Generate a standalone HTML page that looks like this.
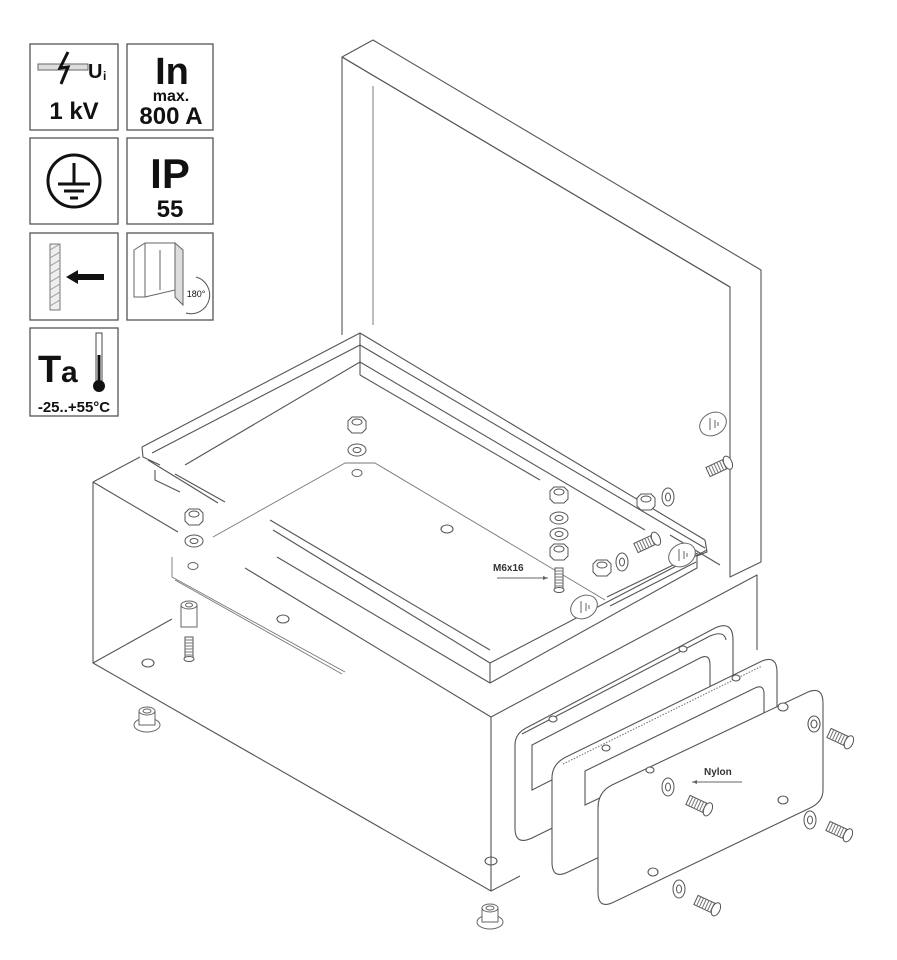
<!DOCTYPE html>
<html><head><meta charset="utf-8"><style>
html,body{margin:0;padding:0;background:#fff;}
svg{display:block;}
text{font-family:"Liberation Sans",sans-serif;}
</style></head><body>
<svg width="897" height="960" viewBox="0 0 897 960" xmlns="http://www.w3.org/2000/svg">
<defs>
<g id="hscrew" fill="#fff" stroke="#555" stroke-width="1">
  <path d="M0,-5 L20,-5 L20,5 L0,5 Z"/>
  <path d="M3,-5 v10 M6,-5 v10 M9,-5 v10 M12,-5 v10 M15,-5 v10 M18,-5 v10" stroke="#777"/>
  <ellipse cx="22" cy="0" rx="4" ry="7"/>
</g>
<g id="vscrew" fill="#fff" stroke="#555" stroke-width="1">
  <rect x="-4" y="0" width="8" height="22"/>
  <path d="M-4,3 h8 M-4,6 h8 M-4,9 h8 M-4,12 h8 M-4,15 h8 M-4,18 h8" stroke="#777"/>
  <ellipse cx="0" cy="22" rx="5" ry="2.5"/>
</g>
<g id="nut" fill="#fff" stroke="#555" stroke-width="1">
  <path d="M-9,-4 L-5,-8 L5,-8 L9,-4 L9,4 L5,8 L-5,8 L-9,4 Z"/>
  <ellipse cx="0" cy="-3" rx="5" ry="3"/>
</g>
<g id="washer" fill="#fff" stroke="#555" stroke-width="1">
  <ellipse cx="0" cy="0" rx="9" ry="6"/>
  <ellipse cx="0" cy="0" rx="4" ry="2.5"/>
</g>
<g id="vwasher" fill="#fff" stroke="#555" stroke-width="1">
  <ellipse cx="0" cy="0" rx="6" ry="9"/>
  <ellipse cx="0" cy="0" rx="2.5" ry="4"/>
</g>
<g id="foot" fill="#fff" stroke="#666" stroke-width="1">
  <ellipse cx="0" cy="8" rx="13" ry="7"/>
  <rect x="-8" y="-6" width="16" height="14"/>
  <ellipse cx="0" cy="-6" rx="8" ry="4"/>
  <ellipse cx="0" cy="-6" rx="4" ry="2"/>
</g>
<g id="earth" fill="#fff" stroke="#666" stroke-width="1">
  <ellipse cx="0" cy="0" rx="14" ry="11" transform="rotate(-30)"/>
  <path d="M-3,-6 v12 M2,-4 v8 M5,-2 v4" />
</g>
</defs>

<!-- ICON PANEL -->
<g fill="none" stroke="#555" stroke-width="1.3">
  <rect x="30" y="44" width="88" height="86"/>
  <rect x="127" y="44" width="86" height="86"/>
  <rect x="30" y="138" width="88" height="86"/>
  <rect x="127" y="138" width="86" height="86"/>
  <rect x="30" y="233" width="88" height="87"/>
  <rect x="127" y="233" width="86" height="87"/>
  <rect x="30" y="328" width="88" height="88"/>
</g>
<rect x="38" y="64" width="50" height="6" fill="#ddd" stroke="#666"/>
<path d="M68,52 L60,68 L68,67 L61,84" fill="none" stroke="#111" stroke-width="3"/>
<text x="88" y="78" font-size="20" font-weight="bold" fill="#111">U</text>
<text x="103" y="80" font-size="12" font-weight="bold" fill="#111">i</text>
<text x="74" y="119" font-size="24" font-weight="bold" fill="#111" text-anchor="middle">1 kV</text>
<text x="172" y="84" font-size="38" font-weight="bold" fill="#111" text-anchor="middle">In</text>
<text x="171" y="101" font-size="16" font-weight="bold" fill="#111" text-anchor="middle">max.</text>
<text x="171" y="124" font-size="24" font-weight="bold" fill="#111" text-anchor="middle">800 A</text>
<circle cx="74" cy="181" r="26" fill="none" stroke="#111" stroke-width="3"/>
<path d="M74,163 v20 M58,184 h32 M64,191 h20 M70,198 h8" stroke="#111" stroke-width="3"/>
<text x="170" y="188" font-size="42" font-weight="bold" fill="#111" text-anchor="middle">IP</text>
<text x="170" y="217" font-size="24" font-weight="bold" fill="#111" text-anchor="middle">55</text>
<rect x="50" y="244" width="10" height="66" fill="#eee" stroke="#777"/>
<path d="M50,250 l10,-6 M50,258 l10,-6 M50,266 l10,-6 M50,274 l10,-6 M50,282 l10,-6 M50,290 l10,-6 M50,298 l10,-6 M50,306 l10,-6" stroke="#999"/>
<path d="M66,277 L78,270 L78,274 L104,274 L104,280 L78,280 L78,284 Z" fill="#111"/>
<g fill="#fff" stroke="#666" stroke-width="1">
  <path d="M134,250 L145,243 L175,243 L175,290 L145,297 L134,297 Z"/>
  <path d="M145,243 L145,297 M160,250 L160,290"/>
  <path d="M175,243 L183,250 L183,305 L175,297 Z" fill="#ddd"/>
</g>
<path d="M196,277 a14,14 0 0 1 -10,36" fill="none" stroke="#555"/>
<text x="196" y="297" font-size="9" fill="#111" text-anchor="middle">180°</text>
<text x="38" y="382" font-size="38" font-weight="bold" fill="#111">T</text>
<text x="61" y="382" font-size="30" font-weight="bold" fill="#111">a</text>
<rect x="96" y="333" width="6" height="50" fill="#fff" stroke="#444"/>
<rect x="97.5" y="355" width="3" height="30" fill="#111"/>
<circle cx="99" cy="386" r="6" fill="#111"/>
<text x="74" y="412" font-size="15" font-weight="bold" fill="#111" text-anchor="middle">-25..+55°C</text>

<!-- MAIN DRAWING -->
<g fill="none" stroke="#555" stroke-width="1.1" stroke-linejoin="round">
  <path d="M342,57 L373,40 L761,270 L761,562 L730,577 L730,287 Z" fill="#fff"/>
  <path d="M342,57 L730,287"/>
  <path d="M342,57 L342,335"/>
  <path d="M373,86 L373,325" stroke="#888"/>

  <path d="M93,482 L93,663 L491,891 L491,717"/>
  <path d="M93,482 L178,532" />
  <path d="M93,482 L140,457"/>
  <path d="M93,663 L172,619"/>
  <path d="M491,717 L757,575 L757,650"/>
  <path d="M491,891 L520,876"/>
  <path d="M245,568 L491,717" />
  <!-- rim -->
  <path d="M142,447 L360,333 L705,540"/>
  <path d="M142,447 L143,457 L160,465"/>
  <path d="M152,453 L360,345"/>
  <path d="M185,465 L360,362"/>
  <path d="M360,333 L360,375"/>
  <path d="M360,345 L705,548"/>
  <path d="M360,362 L645,530"/>
  <path d="M360,375 L540,480"/>
  <path d="M148,460 L218,503"/>
  <path d="M175,474 L225,502"/>
  <path d="M155,470 L155,480 L180,492"/>
  <path d="M705,540 L707,552 L697,556"/>
  <path d="M697,556 L697,568 L490,683 L490,663 L707,550"/>
  <path d="M270,520 L490,650 M273,530 L490,663"/>
  <path d="M277,557 L490,683"/>
  <path d="M607,597 L698,553 M610,606 L696,562"/>
  <path d="M670,535 L720,565"/>
  <g stroke="#777" stroke-width="0.9">
    <path d="M213,537 L345,463 L375,463 L605,600"/>
    <path d="M172,557 L172,577 L345,672"/>
    <path d="M175,580 L342,674"/>
  </g>
  <ellipse cx="447" cy="529" rx="6" ry="4"/>
  <ellipse cx="283" cy="619" rx="6" ry="4"/>
  <ellipse cx="148" cy="663" rx="6" ry="4"/>
  <ellipse cx="491" cy="861" rx="6" ry="4"/>
</g>

<use href="#nut" x="194" y="517"/>
<use href="#washer" x="194" y="541"/>
<ellipse cx="193" cy="566" rx="5" ry="3.5" fill="#fff" stroke="#666"/>
<g fill="#fff" stroke="#666"><rect x="181" y="605" width="16" height="22"/><ellipse cx="189" cy="605" rx="8" ry="4"/><ellipse cx="189" cy="605" rx="3.5" ry="2"/></g>
<use href="#vscrew" x="189" y="637"/>
<use href="#nut" x="357" y="425"/>
<use href="#washer" x="357" y="450"/>
<ellipse cx="357" cy="473" rx="5" ry="3.5" fill="#fff" stroke="#666"/>
<use href="#nut" x="559" y="495"/>
<use href="#washer" x="559" y="518"/>
<use href="#washer" x="559" y="534"/>
<use href="#nut" x="559" y="552"/>
<use href="#vscrew" x="559" y="568"/>
<text x="493" y="571" font-size="10" font-weight="bold" fill="#333">M6x16</text>
<path d="M497,578 L548,578" stroke="#666" fill="none"/>
<path d="M548,578 l-5,-2 v4 z" fill="#666"/>
<use href="#earth" x="584" y="607"/>
<use href="#nut" x="646" y="502"/>
<use href="#vwasher" x="668" y="497"/>
<use href="#hscrew" x="708" y="472" transform="rotate(-25 708 472)"/>
<use href="#earth" x="713" y="424"/>
<use href="#nut" x="602" y="568"/>
<use href="#vwasher" x="622" y="562"/>
<use href="#hscrew" x="636" y="548" transform="rotate(-25 636 548)"/>
<use href="#earth" x="682" y="555"/>

<use href="#foot" x="147" y="717"/>
<use href="#foot" x="490" y="914"/>

<g fill="#fff" stroke="#555" stroke-width="1.1">
  <path d="M528,727 L715,628 Q733,620 733,640 L733,727 Q733,740 720,746 L532,838 Q515,846 515,828 L515,745 Q515,733 528,727 Z"/>
  <path d="M522,734 L710,636 Q724,630 726,640" fill="none"/>
  <path d="M532,745 L700,658 Q710,653 710,665 L710,700 L532,790 Z" fill="#fff"/>
  <ellipse cx="553" cy="719" rx="4" ry="3"/>
  <ellipse cx="683" cy="649" rx="4" ry="3"/>
  <path d="M566,757 L762,661 Q777,655 777,672 L777,760 Q777,772 765,778 L568,872 Q552,880 552,862 L552,778 Q552,764 566,757 Z"/>
  <path d="M585,771 L755,688 Q764,684 764,694 L764,720 L585,805 Z"/>
  <path d="M563,764 L762,666" fill="none" stroke="#777" stroke-dasharray="1.5 1.5"/>
  <ellipse cx="606" cy="748" rx="4" ry="3"/>
  <ellipse cx="736" cy="678" rx="4" ry="3"/>
  <path d="M612,785 L808,692 Q823,686 823,703 L823,790 Q823,802 810,808 L614,902 Q598,910 598,892 L598,808 Q598,792 612,785 Z"/>
  <ellipse cx="783" cy="707" rx="5" ry="4"/>
  <ellipse cx="814" cy="724" rx="6" ry="8"/>
  <ellipse cx="814" cy="724" rx="3" ry="4"/>
  <ellipse cx="783" cy="800" rx="5" ry="4"/>
  <ellipse cx="653" cy="872" rx="5" ry="4"/>
  <ellipse cx="650" cy="770" rx="4" ry="3"/>
</g>
<use href="#vwasher" x="668" y="787"/>
<use href="#hscrew" x="688" y="800" transform="rotate(25 688 800)"/>
<use href="#vwasher" x="810" y="820"/>
<use href="#hscrew" x="828" y="826" transform="rotate(25 828 826)"/>
<use href="#vwasher" x="679" y="889"/>
<use href="#hscrew" x="696" y="900" transform="rotate(25 696 900)"/>
<use href="#hscrew" x="829" y="733" transform="rotate(25 829 733)"/>
<text x="704" y="775" font-size="10" font-weight="bold" fill="#333">Nylon</text>
<path d="M742,782 L692,782" stroke="#666" fill="none"/>
<path d="M692,782 l5,-2 v4 z" fill="#666"/>
</svg>
</body></html>
